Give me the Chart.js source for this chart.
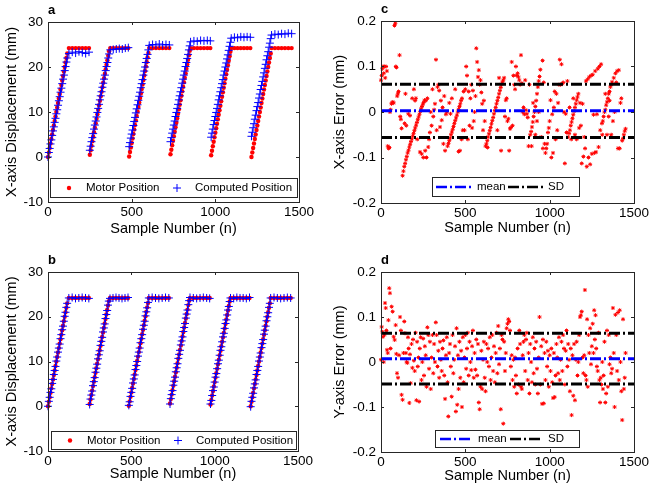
<!DOCTYPE html>
<html>
<head>
<meta charset="utf-8">
<script src="https://cdn.jsdelivr.net/npm/chart.js@4.4.1/dist/chart.umd.min.js"></script>
<style>
  html, body { margin: 0; padding: 0; background: #fff; }
  #wrap { position: relative; width: 656px; height: 493px; overflow: hidden; background: #fff; }
  #wrap canvas { position: absolute; }
</style>
</head>
<body>
<div id="wrap">
  <canvas id="chartA" width="328" height="246" style="left:0;top:0"></canvas>
  <canvas id="chartC" width="328" height="246" style="left:328px;top:0"></canvas>
  <canvas id="chartB" width="328" height="247" style="left:0;top:246px"></canvas>
  <canvas id="chartD" width="328" height="247" style="left:328px;top:246px"></canvas>
</div>
<script>
// ---- data ----
// sample numbers, one line per move cycle: ramp points then plateau points
const sampleNo = [
  0,5,10,15,20,25,30,35,40,45,50,55,60,65,70,75,80,85,90,95,100,105,110,115, 125,145,165,185,205,225,245,
  250,255,260,265,270,275,280,285,290,295,300,305,310,315,320,325,330,335,340,345,350,355,360,365, 372,390,408,426,444,462,480,
  485,490,495,500,505,510,515,520,525,530,535,540,545,550,555,560,565,570,575,580,585,590,595,600, 605,625,645,665,685,705,725,
  732,737,742,747,752,757,762,767,772,777,782,787,792,797,802,807,812,817,822,827,832,837,842,847, 852,872,892,912,932,952,970,
  975,980,985,990,995,1000,1005,1010,1015,1020,1025,1030,1035,1040,1045,1050,1055,1060,1065,1070,1075,1080,1085,1090, 1095,1114,1133,1152,1171,1190,1209,
  1216,1221,1226,1231,1236,1241,1246,1251,1256,1261,1266,1271,1276,1281,1286,1291,1296,1301,1306,1311,1316,1321,1326,1331, 1336,1356,1376,1396,1416,1436,1456
];

// motor position (mm), same motion in panels a and b
const motorPos = [
  0,1,2,3,4,5,6,7,8,9,10,11,12,13,14,15,16,17,18,19,20,21,22,23, 24.2,24.2,24.2,24.2,24.2,24.2,24.2,
  0.5,1.5,2.5,3.5,4.5,5.5,6.5,7.5,8.5,9.5,10.5,11.5,12.5,13.5,14.5,15.5,16.5,17.5,18.5,19.5,20.5,21.5,22.5,23.5, 24.2,24.2,24.2,24.2,24.2,24.2,24.2,
  0.1,1.1,2.1,3.1,4.1,5.1,6.1,7.1,8.1,9.1,10.1,11.1,12.1,13.1,14.1,15.1,16.1,17.1,18.1,19.1,20.1,21.1,22.1,23.1, 24.2,24.2,24.2,24.2,24.2,24.2,24.2,
  0.6,1.6,2.6,3.6,4.6,5.6,6.6,7.6,8.6,9.6,10.6,11.6,12.6,13.6,14.6,15.6,16.6,17.6,18.6,19.6,20.6,21.6,22.6,23.6, 24.2,24.2,24.2,24.2,24.2,24.2,24.2,
  0.4,1.4,2.4,3.4,4.4,5.4,6.4,7.4,8.4,9.4,10.4,11.4,12.4,13.4,14.4,15.4,16.4,17.4,18.4,19.4,20.4,21.4,22.4,23.4, 24.2,24.2,24.2,24.2,24.2,24.2,24.2,
  0,1,2,3,4,5,6,7,8,9,10,11,12,13,14,15,16,17,18,19,20,21,22,23, 24.2,24.2,24.2,24.2,24.2,24.2,24.2
];

// computed position before correction (panel a)
const computedA = [
  0,1.0,1.9,2.9,3.8,4.8,5.8,6.7,7.7,8.6,9.6,10.5,11.5,12.5,13.4,14.4,15.3,16.3,17.3,18.2,19.2,20.1,21.1,22.0, 23.0,23.3,23.1,23.4,23.2,23.0,23.3,
  1.5,2.4,3.4,4.3,5.2,6.2,7.1,8.0,8.9,9.9,10.8,11.7,12.7,13.6,14.5,15.5,16.4,17.3,18.2,19.2,20.1,21.0,22.0,22.9, 23.8,23.9,24.0,24.1,24.0,24.2,24.3,
  2.3,3.2,4.2,5.1,6.0,7.0,7.9,8.8,9.8,10.7,11.6,12.6,13.5,14.4,15.4,16.3,17.2,18.2,19.1,20.0,21.0,21.9,22.8,23.8, 24.8,25.0,24.9,25.1,24.9,25.0,24.9,
  3.4,4.3,5.3,6.2,7.1,8.0,9.0,9.9,10.8,11.7,12.7,13.6,14.5,15.4,16.4,17.3,18.2,19.1,20.1,21.0,21.9,22.8,23.8,24.7, 25.6,25.8,25.7,25.9,25.8,25.9,25.8,
  4.4,5.3,6.2,7.2,8.1,9.0,9.9,10.8,11.7,12.7,13.6,14.5,15.4,16.3,17.2,18.2,19.1,20.0,20.9,21.8,22.7,23.7,24.6,25.5, 26.4,26.6,26.5,26.7,26.6,26.7,26.6,
  4.6,5.5,6.5,7.4,8.4,9.3,10.3,11.2,12.1,13.1,14.0,15.0,15.9,16.8,17.8,18.7,19.7,20.6,21.6,22.5,23.4,24.4,25.3,26.3, 27.1,27.3,27.2,27.4,27.3,27.5,27.4
];

// computed position after correction (panel b)
const computedB = [
  0,1.1,2.0,3.1,3.9,5.1,6.0,7.1,8.0,8.9,10.1,11.0,12.1,13.0,13.9,15.1,16.0,17.1,17.9,19.0,20.1,21.0,22.1,23.0, 24.2,24.3,24.1,24.2,24.3,24.2,24.1,
  0.4,1.6,2.5,3.4,4.6,5.5,6.4,7.6,8.5,9.4,10.6,11.5,12.4,13.6,14.5,15.4,16.6,17.5,18.4,19.6,20.5,21.4,22.6,23.5, 24.1,24.2,24.3,24.2,24.1,24.2,24.3,
  0.2,1.0,2.2,3.1,4.0,5.2,6.1,7.0,8.2,9.1,10.0,11.2,12.1,13.0,14.2,15.1,16.0,17.2,18.1,19.0,20.2,21.1,22.0,23.2, 24.2,24.3,24.2,24.1,24.2,24.3,24.2,
  0.5,1.7,2.6,3.5,4.7,5.6,6.5,7.7,8.6,9.5,10.7,11.6,12.5,13.7,14.6,15.5,16.7,17.6,18.5,19.7,20.6,21.5,22.7,23.6, 24.3,24.2,24.1,24.2,24.3,24.2,24.1,
  0.5,1.3,2.4,3.5,4.3,5.4,6.5,7.3,8.4,9.5,10.3,11.4,12.5,13.3,14.4,15.5,16.3,17.4,18.5,19.3,20.4,21.5,22.3,23.4, 24.2,24.1,24.3,24.2,24.2,24.1,24.3,
  -0.1,1.1,2.0,2.9,4.1,5.0,5.9,7.1,8.0,8.9,10.1,11.0,11.9,13.1,14.0,14.9,16.1,17.0,17.9,19.1,20.0,20.9,22.1,23.0, 24.2,24.3,24.2,24.1,24.2,24.3,24.2
];

// panel c: X-axis error [sample, mm]
const errX = [
  [0,0.07],[4,0.08],[8,0.095],[12,0.1],[16,0.085],[20,0.1],[25,0.075],[30,0.1],[35,0.09],[40,-0.075],
  [45,-0.08],[50,-0.078],[53,0.0],[57,0.005],[62,0.018],[66,0.02],[70,0.022],[75,0.02],[80,0.19],[85,0.195],
  [88,0.1],[92,0.098],[96,0.035],[100,0.04],[104,0.045],[110,0.125],[114,-0.01],[118,-0.016],[122,-0.036],[128,-0.14],
  [133,-0.13],[138,-0.12],[143,-0.113],[148,-0.105],[153,-0.098],[158,-0.09],[163,-0.084],[168,-0.077],[173,-0.071],[178,-0.065],
  [183,-0.059],[188,-0.053],[193,-0.047],[198,-0.041],[203,-0.035],[208,-0.029],[213,-0.023],[218,-0.017],[223,-0.011],[228,-0.005],
  [233,0.001],[238,0.007],[243,0.012],[248,0.017],[253,0.021],[258,0.026],
  [140,-0.025],[145,0.04],[150,-0.03],[162,-0.004],[172,-0.008],[185,0.03],[195,0.05],[202,0.025],[207,0.03],[215,-0.06],
  [231,-0.088],[241,-0.092],[251,-0.1],
  [262,-0.085],[266,0.025],[270,-0.1],[275,0.03],[280,-0.077],[285,-0.06],[290,-0.045],[295,0.0],[300,-0.03],[305,0.05],
  [310,-0.01],[315,0.005],[320,0.018],[326,0.115],[330,-0.04],[335,0.055],[340,0.06],[345,0.047],[350,-0.033],[355,0.025],
  [360,-0.018],[365,0.01],[370,-0.07],[375,0.035],[380,-0.085],[385,-0.005],[390,0.0],
  [395,-0.075],[400,-0.069],[405,-0.063],[410,-0.057],[415,-0.05],[420,-0.044],[425,-0.038],[430,-0.032],[435,-0.025],[440,-0.019],
  [445,-0.013],[450,-0.007],[455,0.0],[460,0.006],[465,0.012],[470,0.018],[475,0.025],[480,0.03],
  [405,0.02],[412,-0.004],[420,0.03],[440,0.05],[460,-0.087],[468,-0.085],[478,-0.06],
  [485,-0.04],[490,0.045],[495,-0.04],[500,0.05],[505,0.1],[510,0.08],[515,-0.06],[520,0.045],[525,-0.03],[530,0.03],
  [535,0.06],[540,-0.035],[545,0.047],[550,-0.02],[555,0.0],[560,0.035],[565,0.14],[570,0.11],[575,0.077],[580,0.092],
  [585,0.06],[590,0.07],[595,0.043],[600,0.018],[605,-0.04],[610,0.025],[615,-0.02],[620,-0.075],
  [625,-0.07],[630,-0.063],[635,-0.055],[640,-0.048],[645,-0.041],[650,-0.034],[655,-0.026],[660,-0.019],[665,-0.012],[670,-0.004],
  [675,0.003],[680,0.01],[685,0.018],[690,0.025],[695,0.032],[700,0.04],[705,0.047],[710,0.054],[715,0.061],[720,0.066],[725,0.07],
  [632,-0.078],[700,0.075],[712,-0.085],[690,-0.04],
  [730,0.075],[735,-0.01],[740,0.026],[745,0.03],[750,-0.02],[755,-0.015],[760,-0.085],[765,-0.037],[770,-0.034],[775,0.11],
  [780,-0.03],[785,0.08],[790,0.06],[795,0.05],[800,0.1],[805,0.08],[810,0.085],[815,0.077],[820,0.07],[825,0.06],
  [830,0.125],[835,0.063],[840,0.0],[845,0.01],[850,-0.005],[855,0.07],[860,0.004],[865,-0.004],[870,-0.012],[875,-0.075],[880,0.06],
  [885,-0.05],[890,-0.043],[895,-0.033],[900,-0.022],[905,-0.01],[910,0.0],[915,0.012],[920,0.025],[925,0.04],[930,0.055],
  [935,0.068],[940,0.078],[945,0.093],
  [893,-0.075],[902,0.02],[915,-0.05],[925,-0.02],[935,0.0],[950,-0.055],[958,0.113],
  [960,-0.08],[965,0.065],[970,-0.07],[975,-0.09],[980,-0.08],[985,-0.07],[990,-0.045],[995,-0.035],[1000,-0.02],[1005,0.026],
  [1010,-0.1],[1015,-0.005],[1020,-0.09],[1025,0.01],[1030,0.045],[1035,-0.06],[1040,0.04],[1045,-0.04],[1050,0.02],[1055,0.06],
  [1060,0.115],[1065,0.06],[1070,0.105],[1075,0.062],[1080,0.065],[1085,0.0],[1090,-0.113],[1095,-0.004],[1100,-0.045],[1105,0.068],
  [1110,-0.055],[1115,-0.047],[1120,-0.04],[1125,-0.03],[1130,-0.022],[1135,-0.014],[1140,-0.006],[1145,0.002],[1150,0.01],[1155,0.018],
  [1160,0.026],[1165,0.033],[1170,0.04],
  [1118,0.01],[1128,-0.06],[1140,0.03],[1150,-0.05],[1160,-0.06],
  [1175,-0.035],[1180,0.02],[1185,-0.03],[1190,-0.113],[1195,0.018],[1200,-0.098],[1205,-0.055],[1210,-0.08],[1215,0.068],[1220,-0.12],
  [1225,0.072],[1230,-0.1],[1235,0.077],[1240,-0.115],[1245,0.08],[1250,-0.092],[1255,0.082],[1260,-0.006],[1265,-0.09],[1270,0.09],
  [1275,-0.088],[1280,-0.005],[1285,0.095],[1290,-0.077],[1295,0.1],[1305,0.105],
  [1300,-0.04],[1310,-0.025],[1315,-0.02],[1320,-0.01],[1325,0.0],[1330,0.005],[1335,0.015],[1340,0.022],[1345,0.03],[1350,0.04],
  [1355,0.045],[1360,0.055],[1365,0.06],[1370,0.066],[1380,0.075],[1390,0.085],[1400,0.09],[1410,0.092],
  [1312,-0.05],[1330,0.04],[1340,-0.05],[1350,-0.01],[1355,0.025],[1365,-0.05],[1375,-0.02],[1385,0.0],[1395,0.065],[1405,-0.08],
  [1415,-0.08],[1420,0.02],[1425,0.03],[1430,-0.063],[1435,-0.058],[1440,-0.05],[1445,-0.042],[1450,-0.037]
];

// panel d: Y-axis error [sample, mm]
const errY = [
  [0,0.005],[4,0.078],[8,0.067],[12,0.056],[16,0.0],[20,0.06],[24,0.131],[28,0.12],[32,0.07],[36,0.027],
  [40,0.02],[44,0.093],[49,0.164],[53,0.153],[57,0.03],[63,0.123],[69,0.112],[75,0.056],[81,0.049],[87,0.082],
  [91,0.018],[95,-0.025],[101,-0.035],[107,0.015],[113,0.1],[118,0.07],[122,-0.073],[128,-0.084],[133,0.02],[138,0.09],
  [142,0.064],[148,0.02],[152,0.0],[156,-0.002],[160,0.055],[164,0.03],[168,-0.091],[172,0.017],[176,-0.047],[181,0.04],
  [186,-0.013],[190,0.05],[195,0.003],[200,-0.02],[205,0.065],[210,-0.085],[214,0.045],[218,-0.01],[222,0.01],[226,-0.088],
  [230,0.03],[235,0.055],[240,-0.04],[245,0.0],[250,0.052],[255,-0.03],[260,0.035],[265,0.015],[270,-0.055],[275,0.077],
  [280,0.06],[285,-0.015],[290,0.045],[295,-0.06],[300,0.01],[305,0.06],[310,-0.025],[315,0.04],[320,0.0],[325,0.088],
  [330,0.06],[335,-0.01],[340,0.025],[345,-0.035],[350,0.045],[355,0.005],[360,-0.02],[365,0.03],[370,0.048],[375,-0.03],
  [380,-0.082],[385,0.015],[390,0.055],[395,-0.045],[399,-0.121],[404,0.02],[409,0.04],[414,-0.01],[419,-0.077],[424,0.06],
  [429,-0.025],[434,0.005],[439,0.035],[444,-0.11],[448,0.075],[452,-0.095],[456,0.015],[460,-0.06],[465,0.045],[470,-0.035],
  [475,0.025],[480,-0.1],[485,0.055],[490,-0.045],[495,0.01],[500,0.06],[505,-0.015],[510,0.03],[515,0.065],[520,-0.03],
  [525,0.045],[530,0.0],[535,-0.018],[540,0.035],[545,0.07],[550,-0.035],[555,0.02],[560,-0.017],[565,0.05],[570,-0.03],
  [575,0.04],[580,-0.09],[585,-0.105],[590,-0.055],[595,0.025],[600,-0.06],[605,0.005],[610,0.045],[615,-0.035],[620,-0.065],
  [625,0.04],[630,0.0],[635,0.03],[640,-0.01],[645,0.055],[650,-0.04],[655,0.01],[660,0.06],[665,-0.02],[670,0.035],
  [675,-0.045],[680,0.02],[685,0.065],[690,-0.025],[695,0.08],[700,-0.005],[705,0.03],[710,-0.105],[715,0.06],[720,0.05],
  [725,-0.137],[730,0.045],[735,-0.02],[740,0.02],[745,0.075],[750,0.085],[755,0.095],[760,0.09],[765,0.07],[770,-0.01],
  [775,0.015],[780,-0.04],[785,0.005],[790,-0.055],[795,0.01],[800,-0.03],[805,-0.07],[810,0.03],[815,-0.05],[820,0.07],
  [825,0.04],[830,-0.055],[835,-0.06],[840,0.015],[845,0.045],[850,0.06],[855,-0.02],[860,0.05],[865,0.065],[870,-0.04],
  [875,0.02],[880,-0.07],[885,0.04],[890,0.0],[895,-0.045],[900,0.055],[905,-0.025],[910,0.03],[915,-0.05],[920,0.045],
  [925,-0.015],[930,-0.07],[935,0.01],[940,0.1],[945,-0.05],[950,0.035],[955,-0.093],[960,0.05],[965,-0.092],[970,0.02],
  [975,-0.04],[980,0.045],[985,-0.01],[990,0.025],[995,-0.055],[1000,0.015],[1005,-0.02],[1010,0.03],[1015,-0.045],[1020,-0.08],
  [1025,0.02],[1030,-0.078],[1035,-0.03],[1040,0.04],[1045,0.01],[1050,-0.025],[1055,0.055],[1060,-0.04],[1065,0.005],[1070,0.045],
  [1075,-0.02],[1080,0.06],[1085,0.03],[1090,-0.05],[1095,0.025],[1100,0.07],[1105,-0.01],[1110,0.04],[1115,0.005],[1120,-0.065],
  [1125,0.03],[1130,-0.118],[1135,0.015],[1140,-0.075],[1145,0.04],[1150,-0.085],[1155,0.005],[1160,0.045],[1165,-0.03],[1170,0.0],
  [1175,0.06],[1180,0.1],[1185,0.104],[1190,0.112],[1195,0.01],[1200,-0.025],[1205,0.015],[1209,0.16],[1213,-0.03],[1218,-0.04],
  [1222,0.095],[1226,-0.055],[1230,0.06],[1235,0.02],[1240,0.075],[1245,-0.005],[1250,0.035],[1255,0.085],[1260,0.02],[1264,0.115],
  [1268,0.05],[1272,0.104],[1276,0.03],[1280,-0.01],[1285,-0.02],[1290,0.065],[1295,-0.04],[1299,-0.09],[1303,-0.035],[1307,-0.05],
  [1312,0.0],[1316,-0.06],[1320,-0.03],[1325,0.045],[1330,-0.09],[1335,-0.07],[1340,0.07],[1345,-0.055],[1350,0.06],[1355,-0.005],
  [1360,0.01],[1365,-0.025],[1370,-0.015],[1375,0.12],[1380,0.02],[1385,-0.1],[1390,0.105],[1395,0.06],[1400,-0.02],[1405,0.11],
  [1410,-0.04],[1415,0.115],[1420,0.0],[1425,-0.065],[1430,-0.129],[1435,0.095],[1440,-0.06],[1445,-0.035],[1450,0.02]
];

// mean, mean+SD, mean-SD of each error series
const statsC = [0.003, 0.061, -0.056];
const statsD = [0.007, 0.064, -0.049];
const statX = [0, 1500];

const posTicks = [-10, 30, 10];     // min, max, step
const errTicks = [-0.2, 0.2, 0.1];
const sampleTicks = [0, 1500, 500];

// ---- helpers ----
const FONT = "'Liberation Sans', Arial, Helvetica, sans-serif";
const AXIS = '#262626';

function toPts(xs, ys) { return xs.map((x, i) => ({x, y: ys[i]})); }
function pairPts(arr) { return arr.map(p => ({x: p[0], y: p[1]})); }
function hLine(y) { return statX.map(x => ({x, y})); }

function posSets(computed) {
  return [
    {label: 'Motor Position', data: toPts(sampleNo, motorPos), showLine: false, order: 1, clip: false,
     pointStyle: 'circle', pointRadius: 2.2, pointBorderWidth: 0, pointBackgroundColor: '#ff0000', pointBorderColor: '#ff0000'},
    {label: 'Computed Position', data: toPts(sampleNo, computed), showLine: false, order: 0, clip: false,
     pointStyle: 'cross', pointRadius: 4, pointBorderWidth: 1, pointBorderColor: '#0000ff', pointBackgroundColor: '#0000ff'}
  ];
}

function errSets(err, stats) {
  const sd = hLine(stats[1]).concat([{x: statX[1], y: null}], hLine(stats[2]));
  return [
    {label: 'error', data: pairPts(err), showLine: false, order: 1, clip: false,
     pointStyle: 'star', pointRadius: 2, pointBorderWidth: 1, pointBorderColor: '#ff0000', pointBackgroundColor: '#ff0000'},
    {label: 'mean', data: hLine(stats[0]), showLine: true, order: 0, pointRadius: 0,
     borderColor: '#0000ff', borderWidth: 3, borderDash: [11, 3, 2, 3], spanGaps: false},
    {label: 'SD', data: sd, showLine: true, order: 0, pointRadius: 0,
     borderColor: '#000000', borderWidth: 3, borderDash: [11, 3, 2, 3], spanGaps: false}
  ];
}

// axes box with inward tick marks (matlab style)
const frame = {
  id: 'frame',
  afterDatasetsDraw(chart) {
    const {ctx, chartArea: a, scales: {x, y}} = chart;
    ctx.save();
    ctx.strokeStyle = AXIS; ctx.lineWidth = 1;
    ctx.strokeRect(a.left + 0.5, a.top + 0.5, a.right - a.left, a.bottom - a.top);
    ctx.beginPath();
    x.ticks.forEach(t => {
      const px = Math.round(x.getPixelForValue(t.value)) + 0.5;
      ctx.moveTo(px, a.bottom); ctx.lineTo(px, a.bottom - 3);
      ctx.moveTo(px, a.top); ctx.lineTo(px, a.top + 3);
    });
    y.ticks.forEach(t => {
      const py = Math.round(y.getPixelForValue(t.value)) + 0.5;
      ctx.moveTo(a.left, py); ctx.lineTo(a.left + 3, py);
      ctx.moveTo(a.right, py); ctx.lineTo(a.right - 3, py);
    });
    ctx.stroke();
    ctx.restore();
  }
};

// legend box inside the plot + panel letter
const panelLegend = {
  id: 'panelLegend',
  afterDraw(chart, args, o) {
    const ctx = chart.ctx;
    const sets = chart.data.datasets;
    ctx.save();
    ctx.fillStyle = '#fff';
    ctx.fillRect(o.x, o.y, o.w, o.h);
    ctx.strokeStyle = AXIS; ctx.lineWidth = 1;
    ctx.strokeRect(o.x + 0.5, o.y + 0.5, o.w, o.h);
    const cy = o.y + o.h / 2 + 0.5;
    o.items.forEach(it => {
      const ds = sets[it.ds];
      if (ds.showLine) {
        ctx.strokeStyle = ds.borderColor; ctx.lineWidth = 2.5;
        ctx.setLineDash(ds.borderDash);
        ctx.beginPath(); ctx.moveTo(it.x1, cy); ctx.lineTo(it.x2, cy); ctx.stroke();
        ctx.setLineDash([]);
      } else if (ds.pointStyle === 'circle') {
        ctx.fillStyle = ds.pointBackgroundColor;
        ctx.beginPath(); ctx.arc(it.x1, cy, ds.pointRadius, 0, Math.PI * 2); ctx.fill();
      } else {
        const r = ds.pointRadius;
        ctx.strokeStyle = ds.pointBorderColor; ctx.lineWidth = 1;
        ctx.beginPath();
        ctx.moveTo(it.x1 - r, cy); ctx.lineTo(it.x1 + r, cy);
        ctx.moveTo(it.x1, cy - r); ctx.lineTo(it.x1, cy + r);
        ctx.stroke();
      }
      ctx.fillStyle = '#000';
      ctx.font = '11.5px ' + FONT;
      ctx.textBaseline = 'middle';
      ctx.fillText(ds.label, it.tx, cy);
    });
    ctx.font = 'bold 13px ' + FONT;
    ctx.textBaseline = 'alphabetic';
    ctx.fillStyle = '#000';
    ctx.fillText(o.letter, chart.chartArea.left, chart.chartArea.top - 8);
    ctx.restore();
  }
};

function makeChart(id, c) {
  const tickFont = {family: FONT, size: 13.5};
  const titleFont = {family: FONT, size: 14.5};
  return new Chart(document.getElementById(id), {
    type: 'scatter',
    data: {datasets: c.datasets},
    options: {
      responsive: false, animation: false, devicePixelRatio: 1,
      layout: {padding: c.pad},
      plugins: {legend: {display: false}, tooltip: {enabled: false}, panelLegend: c.legend},
      scales: {
        x: {
          type: 'linear', min: sampleTicks[0], max: sampleTicks[1],
          ticks: {stepSize: sampleTicks[2], padding: 2, color: '#000', font: tickFont, maxRotation: 0, callback: v => String(v)},
          grid: {display: false, drawTicks: false}, border: {display: false},
          title: {display: true, text: 'Sample Number (n)', color: '#000', font: titleFont, padding: {top: 0, bottom: c.xTitlePad}},
          afterFit: s => { s.height = 40; }
        },
        y: {
          type: 'linear', min: c.yTicks[0], max: c.yTicks[1],
          ticks: {stepSize: c.yTicks[2], padding: 5, color: '#000', font: tickFont, callback: c.yFmt},
          grid: {display: false, drawTicks: false}, border: {display: false},
          title: {display: true, text: c.yTitle, color: '#000', font: titleFont, padding: {top: 3.3, bottom: 0}},
          afterFit: s => { s.width = c.yWidth; }
        }
      }
    },
    plugins: [frame, panelLegend]
  });
}

const intFmt = v => String(v);
const decFmt = v => String(Math.round(v * 10) / 10);
const posLegendItems = [{ds: 0, x1: 19, tx: 36}, {ds: 1, x1: 127, tx: 145}];

makeChart('chartA', {
  datasets: posSets(computedA), yTicks: posTicks, yFmt: intFmt, yWidth: 48,
  yTitle: 'X-axis Displacement (mm)', xTitlePad: 4.8,
  pad: {left: 0, top: 22, right: 29, bottom: 4},
  legend: {letter: 'a', x: 50, y: 178, w: 247, h: 19,
    items: posLegendItems.map(i => ({ds: i.ds, x1: 50 + i.x1, tx: 50 + i.tx}))}
});

makeChart('chartB', {
  datasets: posSets(computedB), yTicks: posTicks, yFmt: intFmt, yWidth: 48,
  yTitle: 'X-axis Displacement (mm)', xTitlePad: 8,
  pad: {left: 0, top: 26, right: 30, bottom: 2},
  legend: {letter: 'b', x: 51, y: 185, w: 245, h: 18,
    items: posLegendItems.map(i => ({ds: i.ds, x1: 51 + i.x1, tx: 51 + i.tx}))}
});

makeChart('chartC', {
  datasets: errSets(errX, statsC), yTicks: errTicks, yFmt: decFmt, yWidth: 53,
  yTitle: 'X-axis Error (mm)', xTitlePad: 6.3,
  pad: {left: 0, top: 21, right: 22, bottom: 3},
  legend: {letter: 'c', x: 104, y: 177, w: 147, h: 19,
    items: [{ds: 1, x1: 108, x2: 145, tx: 149}, {ds: 2, x1: 180, x2: 216, tx: 220}]}
});

makeChart('chartD', {
  datasets: errSets(errY, statsD), yTicks: errTicks, yFmt: decFmt, yWidth: 53,
  yTitle: 'Y-axis Error (mm)', xTitlePad: 7.8,
  pad: {left: 0, top: 26, right: 22, bottom: 1},
  legend: {letter: 'd', x: 107, y: 184, w: 144, h: 17,
    items: [{ds: 1, x1: 112, x2: 145, tx: 150}, {ds: 2, x1: 182, x2: 215, tx: 220}]}
});
</script>
</body>
</html>
